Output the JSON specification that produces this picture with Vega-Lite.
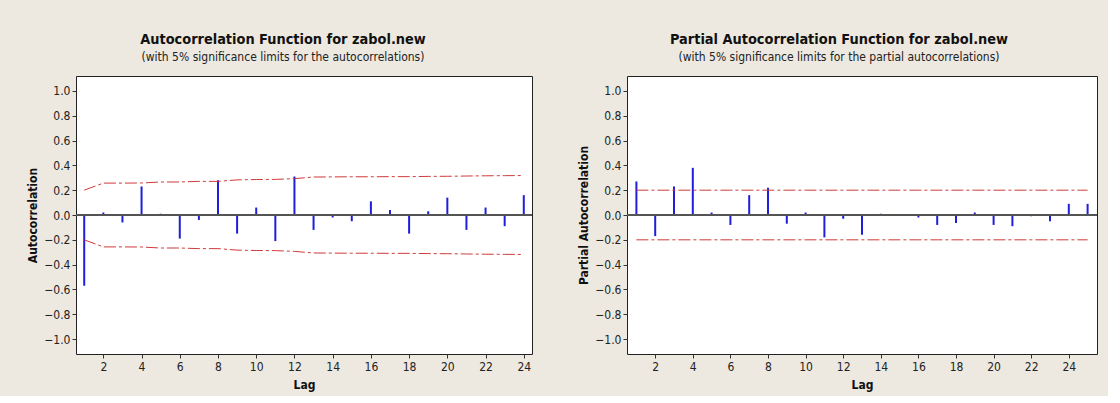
{
  "$schema": "https://vega.github.io/schema/vega-lite/v6.json",
  "background": "#EDE9E0",
  "padding": {"left": 26, "top": 31, "right": 10, "bottom": 5},
  "spacing": 95,
  "bounds": "flush",
  "config": {
    "font": "DejaVu Sans Condensed",
    "view": {"stroke": "#222222", "strokeWidth": 1, "fill": "white"},
    "axis": {"grid": false, "domain": false, "tickColor": "#333333", "tickSize": 4, "labelFontSize": 12, "labelColor": "#222222", "titleFontSize": 12, "titleFontWeight": "bold", "titleColor": "#111111", "labelPadding": 2, "labelOverlap": false, "labelBound": false},
    "axisX": {"labelPadding": 3, "titlePadding": 7},
    "title": {"fontSize": 14.4, "fontWeight": "bold", "color": "#111111", "subtitleFontSize": 12, "subtitleColor": "#222222", "subtitlePadding": 5, "offset": 12, "anchor": "middle"}
  },
  "hconcat": [
    {
      "width": 456,
      "height": 278,
      "title": {"text": "Autocorrelation Function for zabol.new", "subtitle": "(with 5% significance limits for the autocorrelations)", "dx": -21},
      "data": {"values": [
        {"lag": 1, "acf": -0.57, "upper": 0.200, "lower": -0.200},
        {"lag": 2, "acf": 0.02, "upper": 0.257, "lower": -0.257},
        {"lag": 3, "acf": -0.06, "upper": 0.257, "lower": -0.257},
        {"lag": 4, "acf": 0.23, "upper": 0.258, "lower": -0.258},
        {"lag": 5, "acf": 0.01, "upper": 0.266, "lower": -0.266},
        {"lag": 6, "acf": -0.19, "upper": 0.266, "lower": -0.266},
        {"lag": 7, "acf": -0.04, "upper": 0.271, "lower": -0.271},
        {"lag": 8, "acf": 0.28, "upper": 0.271, "lower": -0.271},
        {"lag": 9, "acf": -0.15, "upper": 0.283, "lower": -0.283},
        {"lag": 10, "acf": 0.06, "upper": 0.286, "lower": -0.286},
        {"lag": 11, "acf": -0.21, "upper": 0.287, "lower": -0.287},
        {"lag": 12, "acf": 0.31, "upper": 0.293, "lower": -0.293},
        {"lag": 13, "acf": -0.12, "upper": 0.306, "lower": -0.306},
        {"lag": 14, "acf": -0.02, "upper": 0.307, "lower": -0.307},
        {"lag": 15, "acf": -0.05, "upper": 0.308, "lower": -0.308},
        {"lag": 16, "acf": 0.11, "upper": 0.308, "lower": -0.308},
        {"lag": 17, "acf": 0.04, "upper": 0.309, "lower": -0.309},
        {"lag": 18, "acf": -0.15, "upper": 0.309, "lower": -0.309},
        {"lag": 19, "acf": 0.03, "upper": 0.311, "lower": -0.311},
        {"lag": 20, "acf": 0.14, "upper": 0.312, "lower": -0.312},
        {"lag": 21, "acf": -0.12, "upper": 0.314, "lower": -0.314},
        {"lag": 22, "acf": 0.06, "upper": 0.316, "lower": -0.316},
        {"lag": 23, "acf": -0.09, "upper": 0.317, "lower": -0.317},
        {"lag": 24, "acf": 0.16, "upper": 0.318, "lower": -0.318}
      ]},
      "layer": [
        {
          "mark": {"type": "rule", "color": "#1E1EDC", "strokeWidth": 2},
          "encoding": {
            "x": {"field": "lag", "type": "quantitative", "title": "Lag", "scale": {"domain": [0.57, 24.43], "nice": false, "zero": false}, "axis": {"values": [2, 4, 6, 8, 10, 12, 14, 16, 18, 20, 22, 24], "labelOverlap": false}},
            "y": {"field": "acf", "type": "quantitative", "title": "Autocorrelation", "scale": {"domain": [-1.12, 1.12], "nice": false}, "axis": {"tickCount": 11, "format": ".1f", "labelOverlap": false}},
            "y2": {"datum": 0}
          }
        },
        {
          "mark": {"type": "rule", "color": "#555555", "strokeWidth": 1},
          "encoding": {"y": {"datum": 0, "type": "quantitative", "title": "Autocorrelation"}}
        },
        {
          "mark": {"type": "line", "color": "#D03A3A", "strokeWidth": 1, "strokeDash": [12, 3, 3, 3]},
          "encoding": {
            "x": {"field": "lag", "type": "quantitative", "title": "Lag"},
            "y": {"field": "upper", "type": "quantitative", "title": "Autocorrelation"}
          }
        },
        {
          "mark": {"type": "line", "color": "#D03A3A", "strokeWidth": 1, "strokeDash": [12, 3, 3, 3]},
          "encoding": {
            "x": {"field": "lag", "type": "quantitative", "title": "Lag"},
            "y": {"field": "lower", "type": "quantitative", "title": "Autocorrelation"}
          }
        }
      ]
    },
    {
      "width": 470,
      "height": 278,
      "title": {"text": "Partial Autocorrelation Function for zabol.new", "subtitle": "(with 5% significance limits for the partial autocorrelations)", "dx": -23},
      "data": {"values": [
        {"lag": 1, "pacf": 0.27, "upper": 0.2, "lower": -0.2},
        {"lag": 2, "pacf": -0.17, "upper": 0.2, "lower": -0.2},
        {"lag": 3, "pacf": 0.23, "upper": 0.2, "lower": -0.2},
        {"lag": 4, "pacf": 0.38, "upper": 0.2, "lower": -0.2},
        {"lag": 5, "pacf": 0.02, "upper": 0.2, "lower": -0.2},
        {"lag": 6, "pacf": -0.08, "upper": 0.2, "lower": -0.2},
        {"lag": 7, "pacf": 0.16, "upper": 0.2, "lower": -0.2},
        {"lag": 8, "pacf": 0.22, "upper": 0.2, "lower": -0.2},
        {"lag": 9, "pacf": -0.07, "upper": 0.2, "lower": -0.2},
        {"lag": 10, "pacf": 0.02, "upper": 0.2, "lower": -0.2},
        {"lag": 11, "pacf": -0.18, "upper": 0.2, "lower": -0.2},
        {"lag": 12, "pacf": -0.03, "upper": 0.2, "lower": -0.2},
        {"lag": 13, "pacf": -0.16, "upper": 0.2, "lower": -0.2},
        {"lag": 14, "pacf": 0.01, "upper": 0.2, "lower": -0.2},
        {"lag": 15, "pacf": 0.005, "upper": 0.2, "lower": -0.2},
        {"lag": 16, "pacf": -0.02, "upper": 0.2, "lower": -0.2},
        {"lag": 17, "pacf": -0.08, "upper": 0.2, "lower": -0.2},
        {"lag": 18, "pacf": -0.065, "upper": 0.2, "lower": -0.2},
        {"lag": 19, "pacf": 0.02, "upper": 0.2, "lower": -0.2},
        {"lag": 20, "pacf": -0.08, "upper": 0.2, "lower": -0.2},
        {"lag": 21, "pacf": -0.09, "upper": 0.2, "lower": -0.2},
        {"lag": 22, "pacf": -0.01, "upper": 0.2, "lower": -0.2},
        {"lag": 23, "pacf": -0.05, "upper": 0.2, "lower": -0.2},
        {"lag": 24, "pacf": 0.09, "upper": 0.2, "lower": -0.2},
        {"lag": 25, "pacf": 0.09, "upper": 0.2, "lower": -0.2}
      ]},
      "layer": [
        {
          "mark": {"type": "rule", "color": "#1E1EDC", "strokeWidth": 2},
          "encoding": {
            "x": {"field": "lag", "type": "quantitative", "title": "Lag", "scale": {"domain": [0.5, 25.5], "nice": false, "zero": false}, "axis": {"values": [2, 4, 6, 8, 10, 12, 14, 16, 18, 20, 22, 24], "labelOverlap": false}},
            "y": {"field": "pacf", "type": "quantitative", "title": "Partial Autocorrelation", "scale": {"domain": [-1.12, 1.12], "nice": false}, "axis": {"tickCount": 11, "format": ".1f", "labelOverlap": false}},
            "y2": {"datum": 0}
          }
        },
        {
          "mark": {"type": "rule", "color": "#555555", "strokeWidth": 1},
          "encoding": {"y": {"datum": 0, "type": "quantitative", "title": "Partial Autocorrelation"}}
        },
        {
          "mark": {"type": "line", "color": "#D03A3A", "strokeWidth": 1, "strokeDash": [12, 3, 3, 3]},
          "encoding": {
            "x": {"field": "lag", "type": "quantitative", "title": "Lag"},
            "y": {"field": "upper", "type": "quantitative", "title": "Partial Autocorrelation"}
          }
        },
        {
          "mark": {"type": "line", "color": "#D03A3A", "strokeWidth": 1, "strokeDash": [12, 3, 3, 3]},
          "encoding": {
            "x": {"field": "lag", "type": "quantitative", "title": "Lag"},
            "y": {"field": "lower", "type": "quantitative", "title": "Partial Autocorrelation"}
          }
        }
      ]
    }
  ]
}
